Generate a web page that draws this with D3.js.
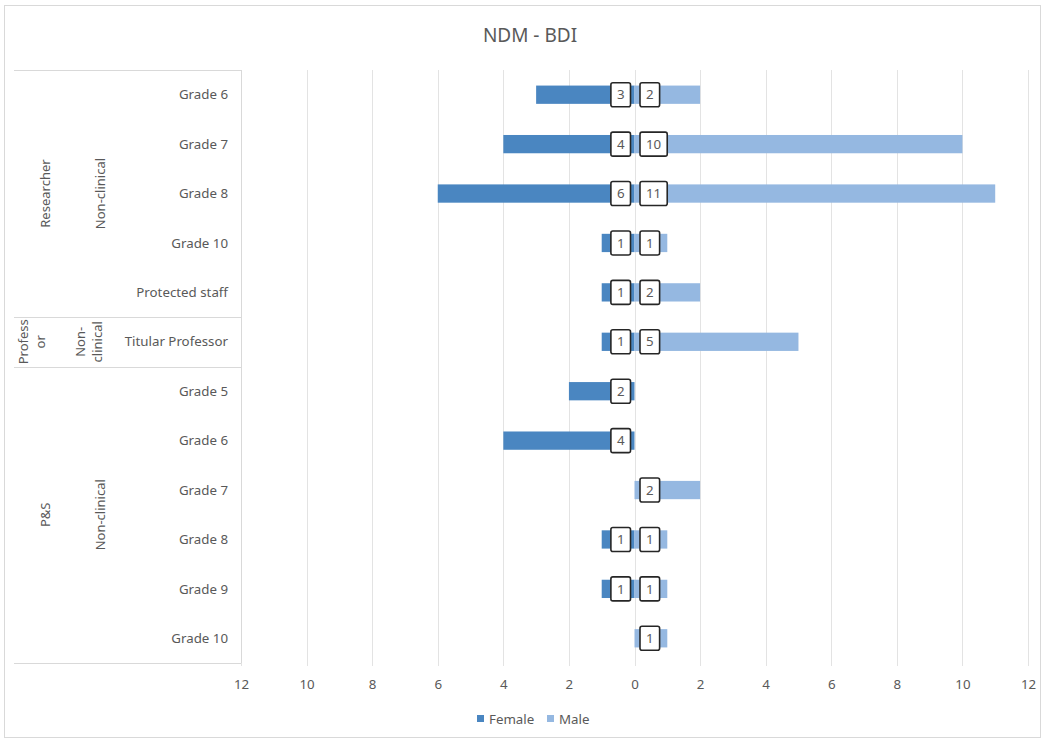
<!DOCTYPE html>
<html><head><meta charset="utf-8">
<script src="https://cdn.jsdelivr.net/npm/d3@7"></script>
<style>body{margin:0;background:#fff;} text{font-family:"Noto Sans","Open Sans",sans-serif;}</style>
</head><body>
<svg id="c" width="1045" height="742"></svg>
<script>
const categories = ["Grade 6","Grade 7","Grade 8","Grade 10","Protected staff","Titular Professor","Grade 5","Grade 6","Grade 7","Grade 8","Grade 9","Grade 10"];
const female = [3,4,6,1,1,1,2,4,0,1,1,0];
const male   = [2,10,11,1,2,5,0,0,2,1,1,1];
const groups = [
  {outer:["Researcher"], inner:["Non-clinical"], start:0, end:4},
  {outer:["Profess","or"], inner:["Non-","clinical"], start:5, end:5},
  {outer:["P&S"], inner:["Non-clinical"], start:6, end:11}
];
const tickValues = [-12,-10,-8,-6,-4,-2,0,2,4,6,8,10,12];
const seriesNames = ["Female","Male"];
const colors = {Female:"#4a86c1", Male:"#95b8e1"};
const textColor = "#595959";

(function(){
const svg = d3.select("#c");
svg.append("rect").attr("x",4.5).attr("y",5.5).attr("width",1036).attr("height",732)
  .attr("fill","#fff").attr("stroke","#d9d9d9");

svg.append("text").attr("x",530).attr("y",42).attr("text-anchor","middle")
  .attr("font-size",19).attr("fill",textColor).text("NDM - BDI");

const pTop = 70, pBottom = 663, pLeft = 241, pRight = 1028;
const x = d3.scaleLinear().domain([-12,12]).range([pLeft,pRight]);
const y = d3.scaleBand().domain(d3.range(categories.length)).range([pTop,pBottom]).paddingInner(0.63).paddingOuter(0.315);

// grid
svg.append("g").selectAll("line").data(tickValues).join("line")
  .attr("x1",d=>Math.round(x(d))+0.5).attr("x2",d=>Math.round(x(d))+0.5).attr("y1",pTop).attr("y2",666)
  .attr("stroke","#e3e3e3").attr("stroke-width",1);

// axis labels
const xAxis = d3.axisBottom(x).tickValues(tickValues).tickFormat(d=>Math.abs(d)).tickSize(0).tickPadding(0);
const ax = svg.append("g").attr("transform",`translate(0,${676})`).call(xAxis);
ax.select(".domain").remove();
ax.selectAll("text").attr("font-size",13.3).attr("fill",textColor).attr("font-family","Noto Sans, sans-serif").attr("dy","1em");

// category table lines
const tbl = svg.append("g").attr("stroke","#d9d9d9").attr("stroke-width",1);
const step = y.step();
const boundaries = [pTop, pTop+step*5, pTop+step*6, pBottom];
boundaries.forEach(b=>tbl.append("line").attr("x1",14).attr("x2",pLeft).attr("y1",Math.round(b)+0.5).attr("y2",Math.round(b)+0.5));
tbl.append("line").attr("x1",pLeft+0.5).attr("x2",pLeft+0.5).attr("y1",pTop).attr("y2",pBottom);

// category labels
svg.append("g").selectAll("text").data(categories).join("text")
  .attr("x",228).attr("y",(d,i)=>y(i)+y.bandwidth()/2).attr("dy","0.35em")
  .attr("text-anchor","end").attr("font-size",13.3).attr("fill",textColor).text(d=>d);

// group labels (rotated)
function n1(l){return l.length>1?32:45;}
function n2(l){return l.length>1?89:100;}
groups.forEach(g=>{
  const cy = (pTop+step*g.start + pTop+step*(g.end+1))/2;
  const drawRot = (lines, cx, gap)=>{
    const n = lines.length;
    lines.forEach((t,k)=>{
      const xx = cx + (k-(n-1)/2)*gap;
      svg.append("text").attr("transform",`translate(${xx},${cy}) rotate(-90)`)
        .attr("text-anchor","middle").attr("dy","0.35em").attr("font-size",13).attr("fill",textColor).text(t);
    });
  };
  drawRot(g.outer, n1(g.outer), 17);
  drawRot(g.inner, n2(g.inner), 17);
});

// bars
const bars = svg.append("g");
bars.selectAll("rect.f").data(female).join("rect").attr("class","f")
  .attr("x",d=>x(-d)).attr("width",d=>x(0)-x(-d)).attr("y",(d,i)=>y(i)).attr("height",y.bandwidth())
  .attr("fill",colors.Female);
bars.selectAll("rect.m").data(male).join("rect").attr("class","m")
  .attr("x",x(0)).attr("width",d=>x(d)-x(0)).attr("y",(d,i)=>y(i)).attr("height",y.bandwidth())
  .attr("fill",colors.Male);

// data labels
function label(v,i,side){
  if(!v) return;
  const g = svg.append("g");
  const t = g.append("text").attr("font-size",13.3).attr("fill",textColor).attr("text-anchor","middle").attr("dy","0.35em").text(v);
  const w = t.node().getComputedTextLength()+12;
  const h = 24;
  const cy = y(i)+y.bandwidth()/2;
  const x0 = side<0 ? x(0)-4-w : x(0)+5.5;
  g.insert("rect","text").attr("x",x0).attr("y",cy-h/2).attr("width",w).attr("height",h)
    .attr("rx",2).attr("fill","#fff").attr("stroke","#262626").attr("stroke-width",1.6);
  t.attr("x",x0+w/2).attr("y",cy);
}
female.forEach((v,i)=>label(v,i,-1));
male.forEach((v,i)=>label(v,i,1));

// legend
const lg = svg.append("g");
const legendPos = [{x:477,tx:489},{x:547,tx:559}];
seriesNames.forEach((s,k)=>{
  lg.append("rect").attr("x",legendPos[k].x).attr("y",715).attr("width",7).attr("height",7).attr("fill",colors[s]);
  lg.append("text").attr("x",legendPos[k].tx).attr("y",719).attr("dy","0.35em").attr("font-size",13.3).attr("fill",textColor).text(s);
});
})();
</script>
</body></html>
